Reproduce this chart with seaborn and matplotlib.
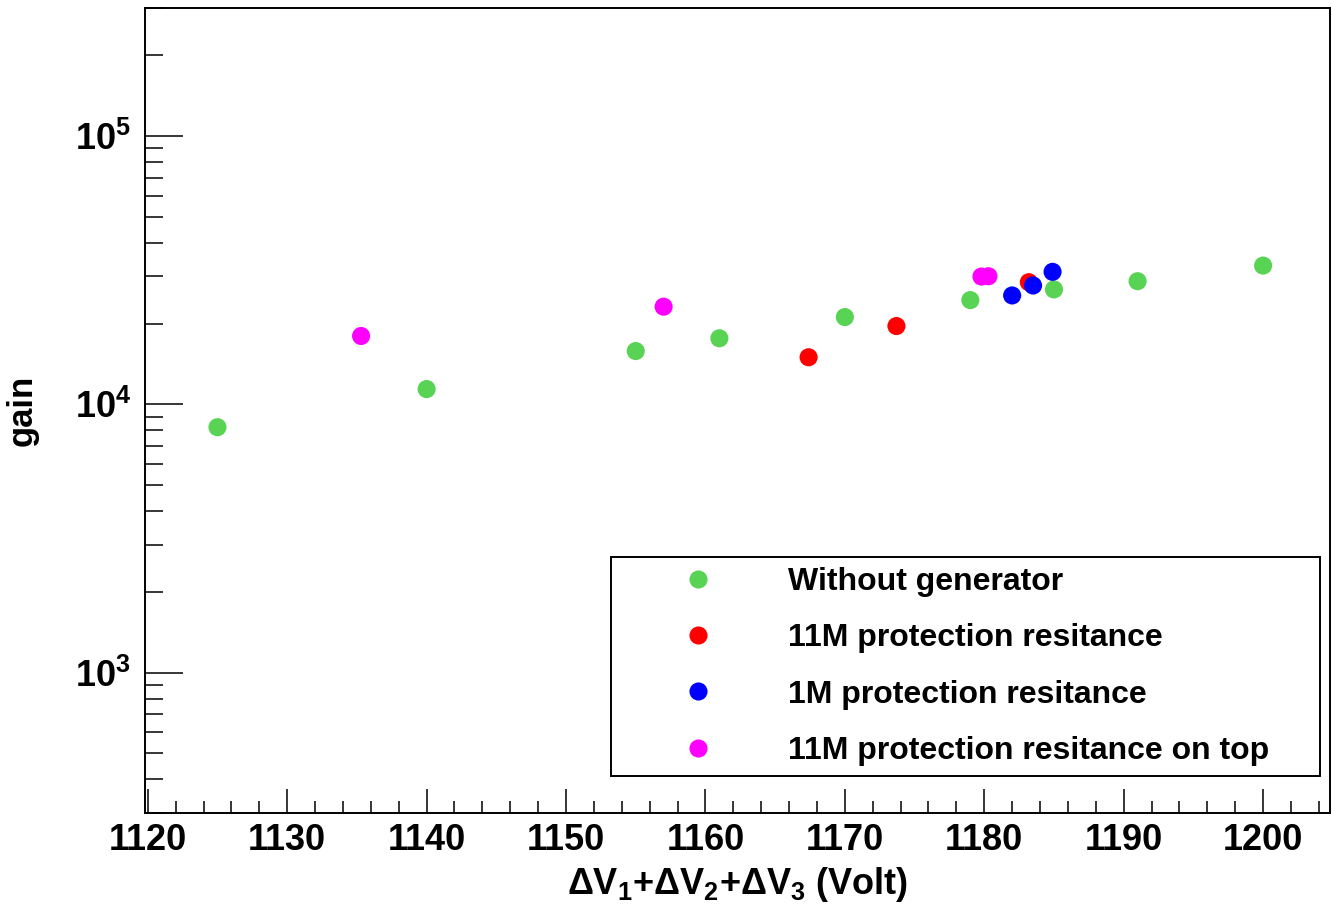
import math
import matplotlib
matplotlib.use("Agg")
import matplotlib.pyplot as plt
import matplotlib.ticker as mticker
import seaborn as sns
import pandas as pd

# ---- data ----
series_names = ["Without generator", "11M protection resitance",
                "1M protection resitance", "11M protection resitance on top"]
series_colors = ["#59d354", "#ff0000", "#0000ff", "#ff00ff"]

v_without = [1125, 1140, 1155, 1161, 1170, 1179, 1185, 1191, 1200]
g_without = [8220, 11400, 15800, 17630, 21150, 24460, 26810, 28770, 32900]

v_11m = [1167.4, 1173.7, 1183.2]
g_11m = [14980, 19580, 28530]

v_1m = [1182.0, 1183.5, 1184.9]
g_1m = [25460, 27730, 31180]

v_top = [1135.3, 1157.0, 1179.8, 1180.3]
g_top = [17980, 23120, 29950, 30030]

xlabel = "ΔV$_{1}$+ΔV$_{2}$+ΔV$_{3}$ (Volt)"
ylabel = "gain"

frames = []
for name, v, g in zip(series_names, [v_without, v_11m, v_1m, v_top],
                      [g_without, g_11m, g_1m, g_top]):
    frames.append(pd.DataFrame({"V": v, "gain": g, "series": name}))
df = pd.concat(frames, ignore_index=True)

# ---- style ----
sns.set_style("ticks")
plt.rcParams["font.family"] = ["Liberation Sans", "DejaVu Sans"]
plt.rcParams["font.weight"] = "bold"
plt.rcParams["mathtext.fontset"] = "custom"
plt.rcParams["mathtext.rm"] = "Liberation Sans:bold"
plt.rcParams["mathtext.bf"] = "Liberation Sans:bold"
plt.rcParams["mathtext.it"] = "Liberation Sans:bold"
plt.rcParams["axes.linewidth"] = 1.4
for k in ["text.color", "axes.labelcolor", "xtick.color", "ytick.color", "axes.edgecolor"]:
    plt.rcParams[k] = "black"

fig = plt.figure(figsize=(13.32, 9.07), dpi=100)
ax = fig.add_axes([145 / 1332, 1 - 813 / 907, 1185 / 1332, 805 / 907])

sns.scatterplot(data=df, x="V", y="gain", hue="series", hue_order=series_names,
                palette=series_colors, s=170, linewidth=0, ax=ax, legend=True)

ax.set_yscale("log")
ax.set_xlim(1119.8, 1204.8)
ax.set_ylim(300, 3.0e5)

ax.xaxis.set_major_locator(mticker.MultipleLocator(10))
ax.xaxis.set_minor_locator(mticker.MultipleLocator(2))
ax.yaxis.set_major_locator(mticker.LogLocator(base=10, numticks=10))
ax.yaxis.set_minor_locator(mticker.LogLocator(base=10, subs=range(2, 10), numticks=20))
ax.yaxis.set_minor_formatter(mticker.NullFormatter())
ax.yaxis.set_major_formatter(mticker.FuncFormatter(
    lambda v, p: r"$\mathregular{10^{%d}}$" % round(math.log10(v))))

ax.tick_params(axis="x", which="major", direction="in", length=17, width=1.1,
               labelsize=26, pad=7, top=False, colors="black")
ax.tick_params(axis="x", which="minor", direction="in", length=8.5, width=1.1, top=False)
ax.tick_params(axis="y", which="major", direction="in", length=27, width=1.1,
               labelsize=26, pad=10, right=False, colors="black")
ax.tick_params(axis="y", which="minor", direction="in", length=13, width=1.1, right=False)
for lbl in ax.get_xticklabels() + ax.get_yticklabels():
    lbl.set_fontweight("bold")

ax.set_xlabel(xlabel, fontsize=26, fontweight="bold", labelpad=5)
ax.set_ylabel(ylabel, fontsize=25, fontweight="bold", labelpad=26)

# legend
handles, labels = ax.get_legend_handles_labels()
x0 = (611 - 145) / 1185
w = (1320 - 611) / 1185
y0 = (813 - 776) / 805
h = (776 - 557) / 805
leg = ax.legend(handles, labels, loc="center", bbox_to_anchor=(x0, y0, w, h),
                mode="expand", fontsize=23, frameon=True, fancybox=False,
                edgecolor="black", framealpha=1, borderpad=0.32,
                handlelength=4.8, handletextpad=0.43, labelspacing=0.82,
                markerscale=1.0, borderaxespad=0)
leg.get_frame().set_linewidth(1.4)
for t in leg.get_texts():
    t.set_fontweight("bold")
    t.set_color("black")

fig.savefig("out.png", dpi=100)
